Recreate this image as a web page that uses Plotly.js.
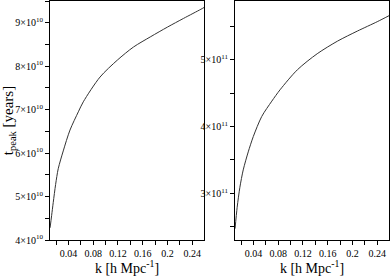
<!DOCTYPE html>
<html>
<head>
<meta charset="utf-8">
<script src="https://cdn.plot.ly/plotly-3.0.1.min.js"></script>
<style>html,body{margin:0;padding:0;background:#fff;}#chart{width:390px;height:276px;}</style>
</head>
<body>
<div id="chart"></div>
<script>
// Left panel: t_peak [years] vs k
const kLeft = [0.0103, 0.0128, 0.0154, 0.0193, 0.0235, 0.0316, 0.0425, 0.056, 0.064, 0.091, 0.119, 0.145, 0.173, 0.200, 0.226, 0.254, 0.259];
const tLeft = [4.28e10, 4.56e10, 4.86e10, 5.28e10, 5.64e10, 6.05e10, 6.53e10, 6.95e10, 7.18e10, 7.75e10, 8.14e10, 8.44e10, 8.68e10, 8.90e10, 9.10e10, 9.31e10, 9.35e10];
// Right panel
const kRight = [0.0103, 0.0137, 0.0181, 0.0235, 0.0316, 0.0398, 0.0534, 0.0697, 0.083, 0.111, 0.143, 0.176, 0.208, 0.240, 0.259];
const tRight = [2.47e11, 2.79e11, 3.09e11, 3.35e11, 3.62e11, 3.85e11, 4.15e11, 4.38e11, 4.55e11, 4.85e11, 5.09e11, 5.28e11, 5.43e11, 5.57e11, 5.66e11];

const leftTickVals = [4e10, 5e10, 6e10, 7e10, 8e10, 9e10];
const leftTickText = ['4×10<sup>10</sup>', '5×10<sup>10</sup>', '6×10<sup>10</sup>', '7×10<sup>10</sup>', '8×10<sup>10</sup>', '9×10<sup>10</sup>'];
const rightTickVals = [3e11, 4e11, 5e11];
const rightTickText = ['3×10<sup>11</sup>', '4×10<sup>11</sup>', '5×10<sup>11</sup>'];
const xTickVals = [0.04, 0.08, 0.12, 0.16, 0.2, 0.24];
const xTickText = ['0.04', '0.08', '0.12', '0.16', '0.2', '0.24'];

const font = 'Liberation Serif, Times New Roman, serif';
const lineStyle = {color: '#333', width: 1, shape: 'spline', smoothing: 0.8};

const traces = [
  {x: kLeft, y: tLeft, xaxis: 'x', yaxis: 'y', mode: 'lines', line: lineStyle, hoverinfo: 'none'},
  {x: kRight, y: tRight, xaxis: 'x2', yaxis: 'y2', mode: 'lines', line: lineStyle, hoverinfo: 'none'}
];

function xAxis(domain, anchor) {
  return {
    domain: domain, anchor: anchor, range: [0.0102, 0.259],
    showline: true, mirror: true, linecolor: '#000', linewidth: 1,
    showgrid: false, zeroline: false,
    tickmode: 'array', tickvals: xTickVals, ticktext: xTickText,
    ticks: 'outside', ticklen: 4, tickcolor: '#000', tickwidth: 1,
    minor: {ticks: 'outside', dtick: 0.02, tick0: 0, ticklen: 4, tickcolor: '#000', showgrid: false},
    tickfont: {family: font, size: 10, color: '#000'},
    title: {text: 'k [h Mpc<sup>-1</sup>]', font: {family: font, size: 14, color: '#000'}, standoff: 4}
  };
}
function yAxis(anchor, range, vals, text, title) {
  const a = {
    anchor: anchor, domain: [0, 1], range: range,
    showline: true, mirror: true, linecolor: '#000', linewidth: 1,
    showgrid: false, zeroline: false,
    tickmode: 'array', tickvals: vals, ticktext: text,
    ticks: 'outside', ticklen: 4, tickcolor: '#000', tickwidth: 1,
    minor: {ticks: 'outside', dtick: vals[1] - vals[0], tick0: vals[0] - (vals[1] - vals[0]) / 2, ticklen: 4, tickcolor: '#000', showgrid: false},
    tickfont: {family: font, size: 10, color: '#000'}
  };
  if (title) a.title = {text: title, font: {family: font, size: 15, color: '#000'}, standoff: 8};
  return a;
}

const layout = {
  width: 390, height: 276,
  margin: {l: 50, r: 1, t: 1, b: 36},
  paper_bgcolor: '#fff', plot_bgcolor: '#fff',
  showlegend: false,
  xaxis: xAxis([0, 0.4543], 'y'),
  xaxis2: xAxis([0.5457, 1], 'y2'),
  yaxis: yAxis('x', [4e10, 9.5e10], leftTickVals, leftTickText, 't<sub>peak</sub> [years]'),
  yaxis2: yAxis('x2', [2.3e11, 5.88e11], rightTickVals, rightTickText, null)
};

Plotly.newPlot('chart', traces, layout, {staticPlot: true, displayModeBar: false});
</script>
</body>
</html>
